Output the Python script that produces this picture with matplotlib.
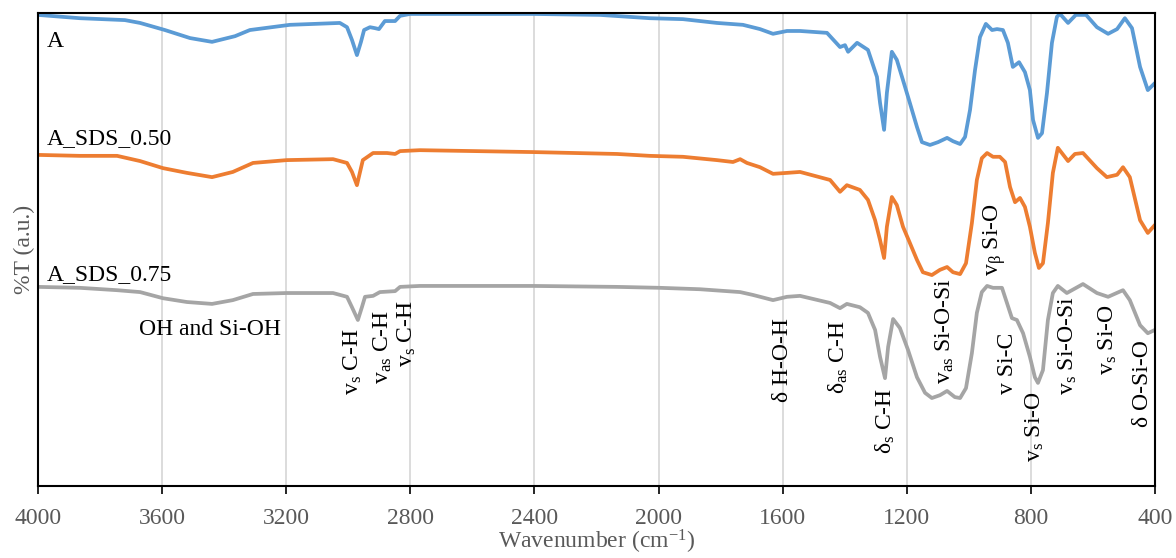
import numpy as np
import matplotlib.pyplot as plt

plt.rcParams["font.family"] = ["Liberation Serif", "DejaVu Serif"]
plt.rcParams["mathtext.default"] = "regular"

# Espectros FTIR (%T em unidades arbitrarias)
num_onda_a = [4000, 3865, 3720, 3671, 3591, 3510, 3439, 3365, 3317, 3188,
              3027, 3004, 2988, 2972, 2959, 2949, 2930, 2914, 2901, 2882,
              2849, 2833, 2801, 2405, 2189, 2028, 1921, 1812, 1728, 1673,
              1631, 1586, 1544, 1457, 1415, 1399, 1389, 1360,
              1325, 1296, 1286, 1273, 1264, 1248, 1232, 1212, 1190, 1167,
              1151, 1125, 1099, 1070, 1051, 1028, 1012, 996, 980, 964,
              945, 925, 909, 890, 874, 858, 838, 819, 803, 793,
              777, 764, 748, 732, 716, 706,
              680, 655, 622, 587, 551, 522, 497, 474, 448, 423, 400]
trans_a = [99.6, 98.9, 98.5, 97.9, 96.4, 94.7, 93.9, 95.1, 96.4, 97.5,
           97.9, 97.0, 94.3, 91.1, 93.9, 96.4, 97.0, 96.8, 96.6, 98.3,
           98.3, 99.4, 99.8, 99.8, 99.6, 98.9, 98.7, 97.9, 97.5, 96.6,
           95.6, 96.2, 96.2, 95.8, 92.8, 93.2, 91.8, 93.7,
           92.2, 86.5, 81.0, 75.3, 83.1, 91.8, 90.1, 85.8, 81.0, 75.9,
           72.7, 72.1, 72.7, 73.6, 72.9, 72.3, 73.8, 79.5, 87.9, 94.9,
           97.7, 96.4, 96.6, 96.4, 93.7, 88.6, 89.6, 87.5, 83.7, 77.4,
           73.6, 74.6, 83.1, 93.7, 99.2, 99.8,
           97.9, 99.6, 99.6, 97.0, 95.6, 96.6, 98.9, 96.8, 88.6, 83.7, 85.2]

num_onda_050 = [4000, 3865, 3745, 3671, 3597, 3520, 3439, 3372, 3307, 3198,
                3049, 3004, 2988, 2972, 2962, 2953, 2920, 2875, 2849, 2833,
                2769, 2405, 2134, 2028, 1921, 1812, 1760, 1737, 1715, 1673,
                1631, 1586, 1544, 1447, 1415, 1393,
                1351, 1325, 1302, 1286, 1273, 1264, 1248, 1232, 1212, 1190,
                1167, 1148, 1119, 1093, 1070, 1051, 1028, 1009, 990, 974,
                958, 941, 922, 900, 883, 867, 851, 835, 819, 803,
                787, 774, 761, 745, 729, 713,
                680, 658, 632, 587, 555, 522, 503, 481, 448, 423, 400]
trans_050 = [70.0, 69.8, 69.8, 68.7, 67.2, 66.2, 65.3, 66.4, 68.3, 68.9,
             69.1, 68.3, 66.4, 63.6, 66.4, 68.9, 70.4, 70.4, 70.2, 70.8,
             71.0, 70.6, 70.2, 69.8, 69.6, 68.9, 68.5, 69.1, 68.3, 67.4,
             66.0, 66.2, 66.4, 64.7, 62.2, 63.6,
             62.6, 60.5, 56.2, 52.0, 48.2, 54.8, 61.1, 59.4, 54.8, 51.4,
             47.8, 45.2, 44.6, 45.7, 46.3, 45.2, 44.8, 47.1, 55.6, 64.7,
             69.3, 70.4, 69.6, 69.6, 68.5, 63.2, 60.0, 60.9, 59.0, 54.8,
             49.3, 46.1, 47.1, 55.6, 66.2, 71.5,
             68.7, 70.2, 70.4, 67.2, 65.3, 65.8, 67.4, 65.3, 56.2, 53.5, 55.2]

num_onda_075 = [4000, 3865, 3745, 3671, 3597, 3520, 3439, 3372, 3307, 3198,
                3049, 3004, 2988, 2969, 2956, 2946, 2920, 2898, 2849, 2833,
                2769, 2405, 2134, 1995, 1866, 1737, 1696, 1631, 1586, 1544,
                1447, 1415, 1393,
                1351, 1325, 1302, 1286, 1270, 1260, 1244, 1222, 1196, 1167,
                1141, 1119, 1093, 1070, 1045, 1028, 1009, 990, 974, 958,
                941, 922, 893, 877, 861, 845, 825, 803, 787, 777,
                761, 745, 729,
                713, 684, 632, 587, 551, 503, 481, 448, 423, 400]
trans_075 = [42.1, 41.9, 41.4, 41.0, 39.7, 38.9, 38.5, 39.3, 40.6, 40.8,
             40.8, 40.0, 37.8, 35.1, 37.8, 40.0, 40.2, 41.0, 41.2, 42.1,
             42.3, 42.3, 42.1, 41.9, 41.6, 41.0, 40.4, 39.3, 40.0, 40.2,
             38.7, 37.6, 38.5,
             37.8, 36.6, 33.0, 27.3, 22.8, 29.4, 35.3, 33.4, 28.8, 23.0,
             19.7, 18.6, 19.2, 20.1, 18.8, 18.6, 20.7, 28.1, 36.6, 41.0,
             42.3, 41.9, 41.9, 38.7, 35.5, 35.1, 32.3, 27.3, 23.0, 21.8,
             24.5, 35.1, 40.8,
             42.3, 40.8, 42.7, 40.8, 40.0, 41.4, 39.3, 34.0, 32.3, 33.0]

nomes = ["A", "A_SDS_0.50", "A_SDS_0.75"]
nomes_y = [93.9, 73.4, 44.8]

# Atribuicoes das bandas: (texto, numero de onda, topo do texto)
bandas = [(r"v$_{s}$ C-H", 2985, 33.4),
          (r"v$_{as}$ C-H", 2888, 37.2),
          (r"v$_{s}$ C-H", 2811, 39.3),
          ("δ H-O-H", 1602, 35.5),
          (r"δ$_{as}$ C-H", 1422, 35.1),
          (r"δ$_{s}$ C-H", 1270, 20.7),
          (r"v$_{as}$ Si-O-Si", 1077, 44.0),
          (r"v$_{β}$ Si-O", 916, 59.8),
          ("v Si-C", 874, 32.3),
          (r"v$_{s}$ Si-O", 787, 19.9),
          (r"v$_{s}$ Si-O-Si", 680, 40.0),
          (r"v$_{s}$ Si-O", 551, 38.3),
          ("δ O-Si-O", 439, 30.9)]

cores = ["#5B9BD5", "#ED7D31", "#A5A5A5"]

fig = plt.figure(figsize=(11.76, 5.58), dpi=100)
ax = fig.add_axes([0.0323, 0.129, 0.9498, 0.8477])

series = [(num_onda_a, trans_a), (num_onda_050, trans_050), (num_onda_075, trans_075)]
for (x, y), cor in zip(series, cores):
    ax.plot(x, y, color=cor, linewidth=2.7, solid_joinstyle="round", solid_capstyle="round")

for nome, yy in zip(nomes, nomes_y):
    ax.text(3972, yy, nome, fontsize=17, ha="left", va="center", color="black")

for texto, xx, yy in bandas:
    ax.text(xx, yy, texto, fontsize=17, rotation=90, ha="center", va="top", color="black")

ax.text(3446, 33.0, "OH and Si-OH", fontsize=17, ha="center", va="center", color="black")

ax.set_xlim(4000, 400)
ax.set_ylim(0, 100)
ax.set_xticks(np.arange(4000, 399, -400))
ax.set_yticks([])
ax.grid(axis="x", color="#D9D9D9", linewidth=1.3)
ax.set_axisbelow(True)
ax.tick_params(axis="x", direction="out", length=6, width=1.2, colors="black",
               labelcolor="#595959", labelsize=17, pad=10)
for lado in ax.spines.values():
    lado.set_color("black")
    lado.set_linewidth(1.5)

ax.set_xlabel("Wavenumber (cm$^{-1}$)", fontsize=17, color="#595959", labelpad=-1)
ax.set_ylabel("%T (a.u.)", fontsize=17, color="#595959", labelpad=2)

fig.savefig("out.png", dpi=100)
